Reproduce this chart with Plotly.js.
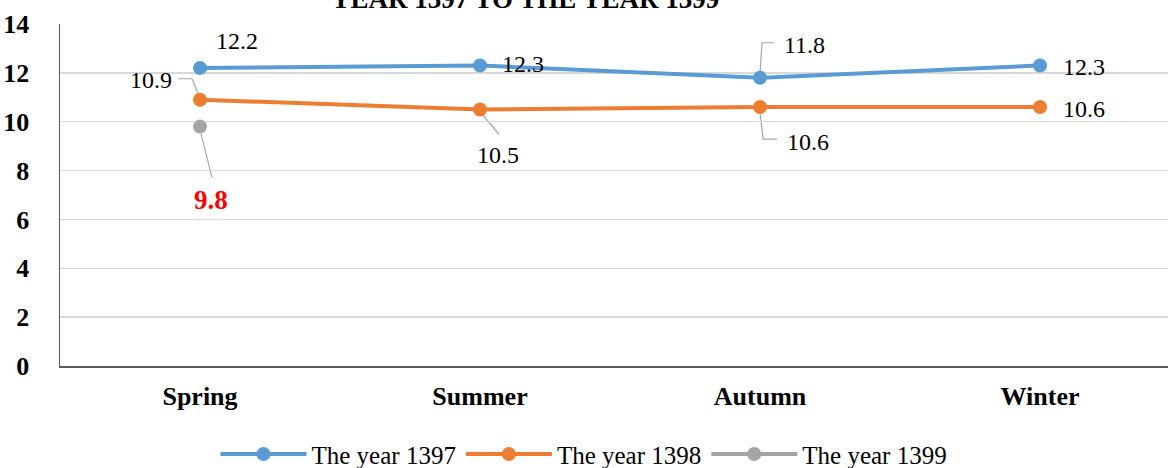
<!DOCTYPE html>
<html>
<head>
<meta charset="utf-8">
<script src="https://cdn.plot.ly/plotly-3.0.1.min.js"></script>
<style>html,body{margin:0;padding:0;background:#fff;overflow:hidden}</style>
</head>
<body>
<div id="chart" style="width:1168px;height:468px"></div>
<script>
const categories = ["Spring", "Summer", "Autumn", "Winter"];
const year1397 = [12.2, 12.3, 11.8, 12.3];
const year1398 = [10.9, 10.5, 10.6, 10.6];
const year1399 = [9.8, null, null, null];
const seriesNames = ["The year 1397", "The year 1398", "The year 1399"];
const yTicks = [0, 2, 4, 6, 8, 10, 12, 14];

const colors = ["#5B9BD5", "#ED7D31", "#A5A5A5"];
const allSeries = [year1397, year1398, year1399];

const traces = allSeries.map((vals, i) => ({
  x: categories,
  y: vals,
  name: seriesNames[i],
  type: "scatter",
  mode: "lines+markers",
  line: {color: colors[i], width: 4},
  marker: {color: colors[i], size: 14},
  hoverinfo: "skip"
}));

const labelFont = {family: "Liberation Serif", size: 24, color: "#000"};
const redFont = {family: "Liberation Serif", size: 27, color: "#FF0000", weight: "bold"};
// label placements: [series index, category index, dx, dy (down +), leader path in px relative to point (up +)]
const labelSpecs = [
  [0, 0, 37, -27, null],
  [0, 1, 43, -2, null],
  [0, 2, 44, -33, "M 0 5 L 2 35 L 14 35"],
  [0, 3, 44, 1, null],
  [1, 0, -49, -20, "M -22 21 L -8 21 L -1 4"],
  [1, 1, 18, 45, "M 1 -3 L 19 -25"],
  [1, 2, 48, 35, "M 0 -5 L 3 -32 L 17 -32"],
  [1, 3, 44, 2, null],
  [2, 0, 11, 73, "M 1 -7 L 12 -51"]
];

const annotations = [];
const shapes = [];
labelSpecs.forEach(s => {
  const v = allSeries[s[0]][s[1]];
  const isRed = s[0] === 2;
  annotations.push({
    x: categories[s[1]], y: v, xref: "x", yref: "y",
    text: isRed ? "<b>" + v.toFixed(1) + "</b>" : v.toFixed(1),
    showarrow: false, xshift: s[2], yshift: -s[3],
    font: isRed ? redFont : labelFont
  });
  if (s[4]) {
    shapes.push({
      type: "path", xref: "x", yref: "y",
      xsizemode: "pixel", ysizemode: "pixel",
      xanchor: categories[s[1]], yanchor: v,
      path: s[4], line: {color: "#A6A6A6", width: 1.2}, layer: "below"
    });
  }
});

annotations.push({
  text: "<b>YEAR 1397 TO THE YEAR 1399</b>",
  xref: "paper", yref: "paper", x: (525 - 60) / 1108, xanchor: "center",
  y: 1, yanchor: "bottom", yshift: 8, showarrow: false,
  font: {family: "Liberation Serif", size: 27, color: "#000"}
});

const layout = {
  width: 1168, height: 468,
  margin: {l: 60, r: 0, t: 24, b: 102, autoexpand: false},
  paper_bgcolor: "#fff", plot_bgcolor: "#fff",
  showlegend: true,
  legend: {
    orientation: "h", x: (584 - 60) / 1108, xanchor: "center", y: -0.258, yanchor: "middle",
    font: {family: "Liberation Serif", size: 25, color: "#000"},
    itemwidth: 86, traceorder: "normal"
  },
  xaxis: {
    type: "category", range: [-0.5, 3.457],
    showgrid: false, zeroline: false,
    showline: true, linecolor: "#595959", linewidth: 1.5,
    ticks: "", ticklabelstandoff: 6,
    tickfont: {family: "Liberation Serif", size: 26, color: "#000", weight: "bold"}
  },
  yaxis: {
    range: [0, 14], tickvals: yTicks, ticktext: yTicks.map(String),
    showgrid: true, gridcolor: "#D9D9D9", gridwidth: 1.5,
    zeroline: false, showline: true, linecolor: "#595959", linewidth: 1.5,
    ticks: "", ticklabelstandoff: 24,
    tickfont: {family: "Liberation Serif", size: 26, color: "#000", weight: "bold"}
  },
  annotations: annotations,
  shapes: shapes
};

Plotly.newPlot("chart", traces, layout, {displayModeBar: false, staticPlot: true});
</script>
</body>
</html>
